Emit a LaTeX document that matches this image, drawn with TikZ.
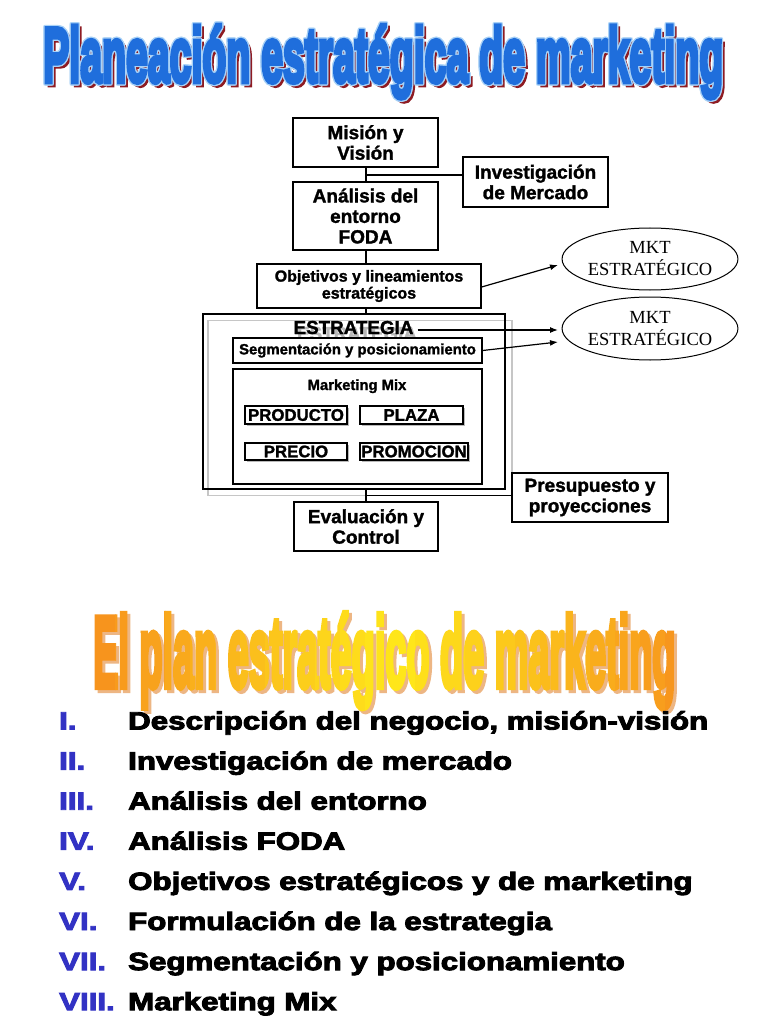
\documentclass[tikz,border=0pt]{standalone}
\usepackage{fontspec}
\setmainfont{Liberation Sans}
\newfontfamily\serifmk{Liberation Serif}
\newfontfamily\heavyfont[FakeBold=6]{Liberation Sans Bold}
\newfontfamily\listfont[FakeBold=3.5]{Liberation Sans Bold}
\newfontfamily\boxfont[FakeBold=1.5]{Liberation Sans Bold}
\usetikzlibrary{shapes.geometric,arrows.meta,shadows}
\definecolor{tblue}{HTML}{1F6EDC}
\definecolor{trim}{HTML}{A9D2F7}
\definecolor{tred}{HTML}{8E1B22}
\definecolor{tor}{HTML}{F7941D}
\definecolor{tyel}{HTML}{FFE81A}
\definecolor{tshad}{HTML}{EDB684}
\definecolor{numblue}{HTML}{3232C4}
\newcommand\titleA[1]{\resizebox{680pt}{57pt}{\textcolor{#1}{\heavyfont Planeación estratégica de marketing}}}
\newcommand\titleB[1]{\resizebox{582pt}{74pt}{\textcolor{#1}{\heavyfont El plan estratégico de marketing}}}
\tikzset{
  box/.style={draw, line width=1.2pt, fill=white, align=center, inner sep=0pt,
    font=\boxfont\fontsize{19}{20.5}\selectfont},
  mixbox/.style={draw, line width=1.1pt, fill=white, inner sep=0pt,
    font=\boxfont\fontsize{16.8}{18}\selectfont,
    drop shadow={shadow xshift=1.5pt, shadow yshift=-1.5pt, fill=gray!55, opacity=1}},
  conn/.style={line width=1.2pt},
  arr/.style={line width=1.2pt, -{Latex[length=8pt,width=6pt]}},
  mkt/.style={ellipse, draw, line width=1pt, align=center, inner sep=0pt,
    font=\serifmk\fontsize{18.5}{22}\selectfont},
  listnum/.style={anchor=base west, inner sep=0pt, text=numblue,
    font=\listfont\fontsize{25}{25}\selectfont},
  listtxt/.style={anchor=base west, inner sep=0pt, text=black,
    font=\listfont\fontsize{25}{25}\selectfont},
}
\begin{document}
\begin{tikzpicture}[x=1pt,y=-1pt]
\useasboundingbox (0,0) rectangle (768,1024);
\fill[white] (0,0) rectangle (768,1024);

% ---- Title 1 ----
\node[anchor=base west, inner sep=0pt] (t1s) at (46,85) {\titleA{tred}};
\foreach \dx/\dy in {1.3/0,-1.3/0,0/1.3,0/-1.3,1/1,-1/1,1/-1,-1/-1}
  \node[anchor=base west, inner sep=0pt] at (43+\dx,82+\dy) {\titleA{trim}};
\node[anchor=base west, inner sep=0pt] (t1) at (43,82) {\titleA{tblue}};

% ---- Diagram ----
\coordinate (axis) at (366,0);
\node[box, minimum width=145pt, minimum height=49pt] (mis) at (365.5,142.5) {Misión y\\Visión};
\node[box, minimum width=145pt, minimum height=50pt] (inv) at (535.5,182) {Investigación\\de Mercado};
\node[box, minimum width=145pt, minimum height=68pt] (ana) at (365.5,216) {Análisis del\\entorno\\FODA};
\node[box, minimum width=224pt, minimum height=44pt, font=\boxfont\fontsize{16}{17}\selectfont] (obj) at (369,286) {Objetivos y lineamientos\\estratégicos};
\node[mkt, minimum width=170pt, minimum height=62pt] (mk1) at (650,259) {MKT\\ESTRATÉGICO};
\node[mkt, minimum width=170pt, minimum height=63pt] (mk2) at (650,328.5) {MKT\\ESTRATÉGICO};

\coordinate (j1) at (366,175);
\draw[conn] (axis |- mis.south) -- (axis |- ana.north);
\draw[conn] (j1) -- (j1 -| inv.west);
\draw[conn] (axis |- ana.south) -- (axis |- obj.north);

% strategy frame
\node[draw=gray!45, line width=1.3pt, minimum width=304pt, minimum height=175pt, inner sep=0pt] (stratg) at (360,408) {};
\node[draw, line width=1.2pt, minimum width=302pt, minimum height=175pt, inner sep=0pt] (strat) at (354,401.5) {};
\draw[conn] (axis |- obj.south) -- (axis |- strat.north);

\node[anchor=base, inner sep=1pt, text=gray!55, font=\boxfont\fontsize{18.8}{20}\selectfont] (estrg) at (357,340) {ESTRATEGIA};
\node[anchor=base, inner sep=1pt, font=\boxfont\fontsize{18.8}{20}\selectfont] (estr) at (353.5,334) {ESTRATEGIA};
\node[box, minimum width=249pt, minimum height=25pt, font=\boxfont\fontsize{14.9}{16}\selectfont] (seg) at (357.5,350.5) {Segmentación y posicionamiento};
\node[draw, line width=1.2pt, fill=white, minimum width=249pt, minimum height=115pt, inner sep=0pt] (mix) at (357.5,426.5) {};
\node[anchor=base, inner sep=0pt, font=\boxfont\fontsize{14.8}{16}\selectfont] (mixt) at (357,390) {Marketing Mix};
\node[mixbox, minimum width=102pt, minimum height=18pt] (prod) at (296,415) {PRODUCTO};
\node[mixbox, minimum width=103pt, minimum height=18pt] (plaza) at (411.5,415) {PLAZA};
\node[mixbox, minimum width=102pt, minimum height=17pt] (prec) at (296,451.5) {PRECIO};
\node[mixbox, minimum width=108pt, minimum height=17pt] (prom) at (414,451.5) {PROMOCION};

\coordinate (a1) at (558,265);
\coordinate (a2) at (558,330);
\coordinate (a3) at (558,342);
\draw[arr] (obj.east) ++(0,1) -- (a1);
\draw[arr, shorten <=3pt] (estr.east |- a2) -- (a2);
\draw[arr] (seg.east) -- (a3);

\node[box, minimum width=156pt, minimum height=49pt] (pres) at (590,497.5) {Presupuesto y\\proyecciones};
\node[box, minimum width=144pt, minimum height=49pt] (eva) at (366,526.5) {Evaluación y\\Control};
\coordinate (j2) at (366,495.5);
\draw[conn] (axis |- strat.south) -- (axis |- eva.north);
\draw[conn] (j2) -- (j2 -| pres.west);

% ---- Title 2 (gradient) ----
\node[anchor=base west, inner sep=0pt] (t2s) at (96,690) {\titleB{tshad}};
\foreach \k in {0,...,23} {
  \pgfmathsetmacro\xa{90+\k*25}
  \pgfmathtruncatemacro\pc{min(100,abs(\xa+12.5-395)/290*100)}
  \colorlet{gradc}{tor!\pc!tyel}
  \begin{scope}
    \clip (\xa,600) rectangle (\xa+25.6,712);
    \node[anchor=base west, inner sep=0pt] at (93,687) {\titleB{gradc}};
  \end{scope}
}

% ---- List ----
\foreach \n/\t [count=\i from 0] in {
  {I.}/{Descripción del negocio, misión-visión},
  {II.}/{Investigación de mercado},
  {III.}/{Análisis del entorno},
  {IV.}/{Análisis FODA},
  {V.}/{Objetivos estratégicos y de marketing},
  {VI.}/{Formulación de la estrategia},
  {VII.}/{Segmentación y posicionamiento},
  {VIII.}/{Marketing Mix}} {
  \pgfmathsetmacro\yy{729.5+40.1*\i}
  \node[listnum] (n\i) at (59,\yy) {\scalebox{1.25}[1]{\n}};
  \node[listtxt] (l\i) at (128,\yy) {\scalebox{1.25}[1]{\t}};
}
\end{tikzpicture}
\end{document}
